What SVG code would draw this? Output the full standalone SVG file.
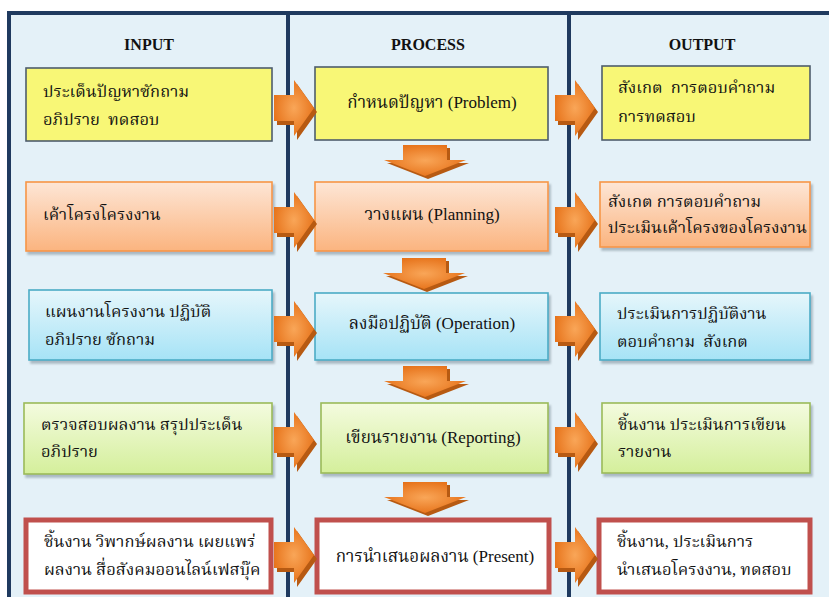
<svg xmlns="http://www.w3.org/2000/svg" width="829" height="597" viewBox="0 0 829 597">
  <style>
    .hdr { font-family: "Liberation Serif", "Times New Roman", serif; font-weight: bold; font-size: 16px; fill: #111; text-anchor: middle; }
    .t { font-family: "Liberation Serif", "Noto Serif Thai", "Noto Sans Thai", "Tlwg Typo", serif; font-size: 16.5px; fill: #111; white-space: pre; }
    .c { text-anchor: middle; font-size: 17px; }
    .col { fill: #e4f1f8; }
    .frame { fill: none; stroke: #1f3a5f; stroke-width: 4; }
    .yel { fill: #f8f776; stroke: #4e5d6c; stroke-width: 1.6; }
    .org { fill: url(#gOrange); stroke: #f79646; stroke-width: 1.6; filter: url(#sh); }
    .blu { fill: url(#gBlue); stroke: #4bacc6; stroke-width: 1.6; filter: url(#sh); }
    .grn { fill: url(#gGreen); stroke: #9bbb59; stroke-width: 1.6; filter: url(#sh); }
    .red { fill: #ffffff; stroke: #c0504d; stroke-width: 5; }
    .arr { fill: url(#gArrow); }
    .arrS { fill: #b75a12; }
  </style>
  <defs>
    <linearGradient id="gOrange" x1="0" y1="0" x2="0" y2="1">
      <stop offset="0" stop-color="#fde6d6"/>
      <stop offset="1" stop-color="#fbb47f"/>
    </linearGradient>
    <linearGradient id="gBlue" x1="0" y1="0" x2="0" y2="1">
      <stop offset="0" stop-color="#e6f6fb"/>
      <stop offset="1" stop-color="#a6e3f6"/>
    </linearGradient>
    <linearGradient id="gGreen" x1="0" y1="0" x2="0" y2="1">
      <stop offset="0" stop-color="#f4fbdf"/>
      <stop offset="1" stop-color="#d4ef9b"/>
    </linearGradient>
    <radialGradient id="gArrow" cx="0.5" cy="0.5" r="0.6">
      <stop offset="0" stop-color="#f9a658"/>
      <stop offset="1" stop-color="#e46c12"/>
    </radialGradient>
    <filter id="sh" x="-5%" y="-10%" width="115%" height="130%">
      <feDropShadow dx="2" dy="3" stdDeviation="1.2" flood-color="#7a8a96" flood-opacity="0.55"/>
    </filter>
    <!-- block arrow pointing right, origin at left of shaft centre -->
    <g id="arrowR">
      <polygon class="arrS" transform="translate(3,4)" points="0,-13 20,-13 20,-28 40,0 20,28 20,13 0,13"/>
      <polygon class="arr" points="0,-13 20,-13 20,-28 40,0 20,28 20,13 0,13"/>
    </g>
    <!-- block arrow pointing down, origin at top centre of shaft -->
    <g id="arrowD">
      <polygon class="arrS" transform="translate(3,3)" points="-22,0 22,0 22,15 41,15 0,31 -41,15 -22,15"/>
      <polygon class="arr" points="-22,0 22,0 22,15 41,15 0,31 -41,15 -22,15"/>
    </g>
  </defs>

  <rect width="829" height="597" fill="#ffffff"/>

  <!-- three column panels -->
  <g id="columns">
    <rect class="col" x="9" y="13" width="279" height="590"/>
    <rect class="col" x="288" y="13" width="281" height="590"/>
    <rect class="col" x="569" y="13" width="270" height="590"/>
    <path class="frame" d="M9,603 V13 H840 M288,13 V603 M569,13 V603"/>
  </g>

  <g id="headers">
    <text class="hdr" x="149" y="50">INPUT</text>
    <text class="hdr" x="428" y="50">PROCESS</text>
    <text class="hdr" x="702" y="50">OUTPUT</text>
  </g>

  <!-- row 1 -->
  <g id="in1"><rect class="yel" x="26" y="68" width="246" height="73"/>
    <text class="t" x="43" y="97">ประเด็นปัญหาซักถาม</text>
    <text class="t" x="43" y="125">อภิปราย  ทดสอบ</text></g>
  <g id="proc1"><rect class="yel" x="315" y="67" width="233" height="73"/>
    <text class="t c" x="432" y="108">กำหนดปัญหา (Problem)</text></g>
  <g id="out1"><rect class="yel" x="602" y="66" width="208" height="74"/>
    <text class="t" x="618" y="93">สังเกต  การตอบคำถาม</text>
    <text class="t" x="618" y="122">การทดสอบ</text></g>

  <!-- row 2 -->
  <g id="in2"><rect class="org" x="26" y="182" width="246" height="69"/>
    <text class="t" x="43" y="220">เค้าโครงโครงงาน</text></g>
  <g id="proc2"><rect class="org" x="315" y="182" width="233" height="69"/>
    <text class="t c" x="432" y="220">วางแผน (Planning)</text></g>
  <g id="out2"><rect class="org" x="600" y="182" width="210" height="65"/>
    <text class="t" x="608" y="207">สังเกต การตอบคำถาม</text>
    <text class="t" x="608" y="233">ประเมินเค้าโครงของโครงงาน</text></g>

  <!-- row 3 -->
  <g id="in3"><rect class="blu" x="29" y="290" width="243" height="70"/>
    <text class="t" x="45" y="317">แผนงานโครงงาน ปฏิบัติ</text>
    <text class="t" x="45" y="345">อภิปราย ซักถาม</text></g>
  <g id="proc3"><rect class="blu" x="315" y="293" width="233" height="67"/>
    <text class="t c" x="432" y="329">ลงมือปฏิบัติ (Operation)</text></g>
  <g id="out3"><rect class="blu" x="600" y="293" width="210" height="67"/>
    <text class="t" x="617" y="319">ประเมินการปฏิบัติงาน</text>
    <text class="t" x="617" y="347">ตอบคำถาม  สังเกต</text></g>

  <!-- row 4 -->
  <g id="in4"><rect class="grn" x="24" y="403" width="248" height="71"/>
    <text class="t" x="41" y="430">ตรวจสอบผลงาน สรุปประเด็น</text>
    <text class="t" x="41" y="457">อภิปราย</text></g>
  <g id="proc4"><rect class="grn" x="321" y="403" width="227" height="70"/>
    <text class="t c" x="433" y="443">เขียนรายงาน (Reporting)</text></g>
  <g id="out4"><rect class="grn" x="602" y="403" width="208" height="70"/>
    <text class="t" x="618" y="430">ชิ้นงาน ประเมินการเขียน</text>
    <text class="t" x="618" y="457">รายงาน</text></g>

  <!-- row 5 -->
  <g id="in5"><rect class="red" x="26" y="520" width="245" height="72"/>
    <text class="t" x="44" y="547">ชิ้นงาน วิพากษ์ผลงาน เผยแพร่</text>
    <text class="t" x="44" y="575">ผลงาน สื่อสังคมออนไลน์เฟสบุ๊ค</text></g>
  <g id="proc5"><rect class="red" x="317" y="520" width="232" height="72"/>
    <text class="t c" x="435" y="562">การนำเสนอผลงาน (Present)</text></g>
  <g id="out5"><rect class="red" x="599" y="520" width="211" height="72"/>
    <text class="t" x="617" y="547">ชิ้นงาน, ประเมินการ</text>
    <text class="t" x="617" y="575">นำเสนอโครงงาน, ทดสอบ</text></g>

  <!-- connectors -->
  <g id="connectors">
    <use href="#arrowR" x="274" y="108"/>
    <use href="#arrowR" x="555" y="108"/>
    <use href="#arrowR" x="274" y="220"/>
    <use href="#arrowR" x="555" y="220"/>
    <use href="#arrowR" x="274" y="329"/>
    <use href="#arrowR" x="555" y="329"/>
    <use href="#arrowR" x="274" y="440"/>
    <use href="#arrowR" x="555" y="440"/>
    <use href="#arrowR" x="274" y="555"/>
    <use href="#arrowR" x="555" y="555"/>
    <use href="#arrowD" x="425" y="145"/>
    <use href="#arrowD" x="424" y="258"/>
    <use href="#arrowD" x="425" y="366"/>
    <use href="#arrowD" x="425" y="482"/>
  </g>
</svg>
